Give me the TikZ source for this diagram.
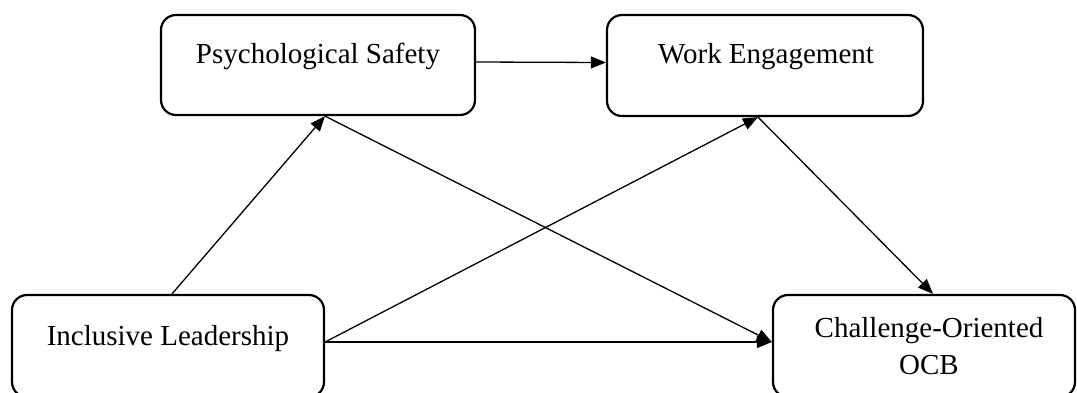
\documentclass[tikz,border=0pt]{standalone}
\usepackage{fontspec}
\setmainfont{Liberation Serif}
\usetikzlibrary{arrows.meta}
\begin{document}
\begin{tikzpicture}[x=1pt,y=-1pt,
  box/.style={draw, line width=2.2pt, rounded corners=15pt, inner sep=0pt},
  lbl/.style={inner sep=0pt, font=\fontsize{29}{37}\selectfont, align=center},
  conn/.style={line width=1.3pt, -{Triangle[length=15pt,width=12pt]}}]
\useasboundingbox (0,0) rectangle (1077,392);
% boxes
\node[box, minimum width=314pt, minimum height=100pt] (ps) at (318,65) {};
\node[box, minimum width=316pt, minimum height=101pt] (we) at (765,65.5) {};
\node[box, minimum width=312pt, minimum height=102pt] (il) at (168,346) {};
\node[box, minimum width=302pt, minimum height=102pt] (co) at (924,346) {};
% labels
\node[lbl, anchor=base] (pst) at (318,63) {Psychological Safety};
\node[lbl, anchor=base] (wet) at (766,63) {Work Engagement};
\node[lbl, anchor=base] (ilt) at (168,345) {Inclusive Leadership};
\node[lbl] (cot) at (929,346.5) {Challenge-Oriented\\OCB};
% attachment points
\coordinate (psS) at ([xshift=7pt]ps.south);
\coordinate (weS) at ([xshift=-7pt]we.south);
\coordinate (ilN) at ([xshift=4pt]il.north);
\coordinate (ilE) at ([yshift=4pt]il.east);
\coordinate (coW) at ([yshift=4pt]co.west);
\coordinate (coN) at ([xshift=9pt]co.north);
% connectors
\draw[conn] ([yshift=3pt]ps.east) -- ([yshift=3pt]we.west);
\draw[conn] (ilN) -- (psS);
\draw[conn] (psS) -- (coW);
\draw[conn] (ilE) -- (weS);
\draw[conn] (weS) -- (coN);
\draw[conn] (ilE) -- (coW);
\end{tikzpicture}
\end{document}
